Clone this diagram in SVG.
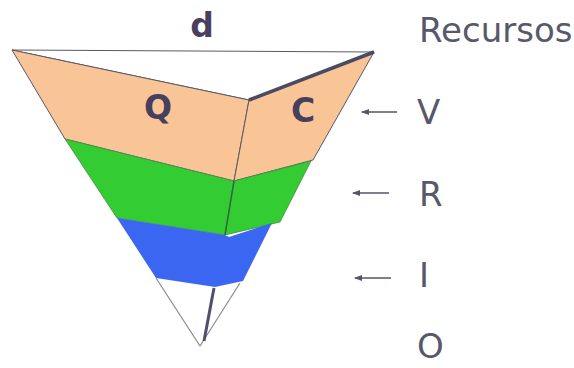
<svg xmlns="http://www.w3.org/2000/svg" width="574" height="368" viewBox="0 0 574 368">
<defs>
<style>
.edge{stroke:#5a5868;stroke-width:1;stroke-linejoin:round}
.or{fill:#f9c496}
.gr{fill:#33cc33}
.bl{fill:#3b66f2}
.big{font-family:"DejaVu Sans",Verdana,sans-serif;font-weight:bold;font-size:33px;fill:#463f5e}
.lab{font-family:"DejaVu Sans",Verdana,sans-serif;font-size:34px;fill:#58586c}
.arr{stroke:#55556a;stroke-width:1.5;fill:none;marker-end:url(#ah)}
</style>
<marker id="ah" markerWidth="8" markerHeight="6" refX="7" refY="3" orient="auto" markerUnits="userSpaceOnUse">
<path d="M0,0 L8,3 L0,6 Z" fill="#55556a"/>
</marker>
</defs>
<rect width="574" height="368" fill="#ffffff"/>
<g id="pyramid">
<polygon id="top" points="12,50 374,52 249,100" fill="#ffffff" class="edge"/>
<g id="band-V">
<polygon class="or edge" points="12,50 249,100 234,181 65,139"/>
<polygon class="or edge" points="249,100 374,52 313,160 234,181"/>
</g>
<g id="band-R">
<polygon class="gr" points="65,139 234,181 225,235 117,218" stroke="#4a8a4a" stroke-width="0.8"/>
<polygon class="gr" points="234,181 311,161 280,222 225,235" stroke="#4a8a4a" stroke-width="0.8"/>
<line x1="234" y1="181" x2="225" y2="235" stroke="#2f6b3a" stroke-width="1.5"/>
</g>
<g id="band-I">
<polygon class="bl" points="117,218 225,235 229,237 272,223 243,281 215,287 156,278"/>
</g>
<g id="bottom">
<line x1="156" y1="278" x2="200" y2="346" stroke="#8a8a90" stroke-width="1.2"/>
<line x1="240" y1="283" x2="200" y2="346" stroke="#8a8a90" stroke-width="1.2"/>
<line x1="214" y1="288" x2="204" y2="341" stroke="#50506a" stroke-width="3"/>
</g>
<line x1="249" y1="100" x2="374" y2="52" stroke="#4a4a62" stroke-width="3.5"/>
</g>
<g id="labels">
<text class="big" x="202" y="37" text-anchor="middle">d</text>
<text class="big" x="158" y="119" text-anchor="middle">Q</text>
<text class="big" x="303" y="122" text-anchor="middle">C</text>
<text class="lab" x="419" y="42">Recursos</text>
<text class="lab" x="417" y="124">V</text>
<text class="lab" x="419" y="206">R</text>
<text class="lab" x="419" y="287">I</text>
<text class="lab" x="417" y="358">O</text>
</g>
<g id="connectors">
<line class="arr" x1="397" y1="112" x2="362" y2="112"/>
<line class="arr" x1="389" y1="193" x2="353" y2="193"/>
<line class="arr" x1="391" y1="278" x2="355" y2="278"/>
</g>
</svg>
